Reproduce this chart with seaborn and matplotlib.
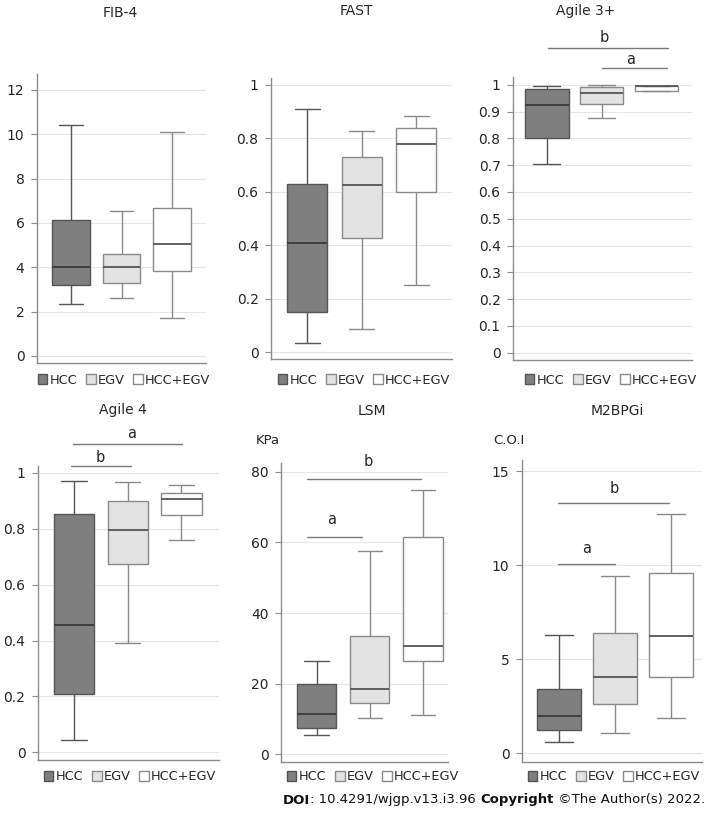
import numpy as np
import pandas as pd
import matplotlib
matplotlib.use("Agg")
import matplotlib.pyplot as plt
import seaborn as sns

# ---------------- data ----------------
groups = ["HCC", "EGV", "HCC+EGV"]

# five-number summaries per group: [min, Q1, median, Q3, max]
fib4_hcc = [2.36, 3.18, 4.00, 6.13, 10.41]
fib4_egv = [2.60, 3.31, 4.00, 4.62, 6.52]
fib4_both = [1.70, 3.83, 5.05, 6.67, 10.10]

fast_hcc = [0.036, 0.149, 0.407, 0.630, 0.909]
fast_egv = [0.086, 0.427, 0.624, 0.731, 0.826]
fast_both = [0.253, 0.598, 0.778, 0.839, 0.884]

agile3_hcc = [0.703, 0.801, 0.923, 0.986, 0.996]
agile3_egv = [0.877, 0.930, 0.971, 0.990, 0.998]
agile3_both = [0.977, 0.977, 0.996, 0.996, 0.997]

agile4_hcc = [0.042, 0.208, 0.455, 0.852, 0.973]
agile4_egv = [0.390, 0.675, 0.796, 0.901, 0.967]
agile4_both = [0.759, 0.851, 0.906, 0.927, 0.957]

lsm_hcc = [5.4, 7.3, 11.3, 20.0, 26.3]
lsm_egv = [10.4, 14.4, 18.4, 33.6, 57.5]
lsm_both = [11.0, 26.3, 30.8, 61.6, 74.8]

m2bpgi_hcc = [0.59, 1.22, 1.97, 3.40, 6.28]
m2bpgi_egv = [1.06, 2.62, 4.08, 6.38, 9.45]
m2bpgi_both = [1.90, 4.08, 6.26, 9.61, 12.75]

titles = ["FIB-4", "FAST", "Agile 3+", "Agile 4", "LSM", "M2BPGi"]
units = ["", "", "", "", "KPa", "C.O.I"]

fib4_ticks = [0, 2, 4, 6, 8, 10, 12]
fast_ticks = [0, 0.2, 0.4, 0.6, 0.8, 1]
agile3_ticks = [0, 0.1, 0.2, 0.3, 0.4, 0.5, 0.6, 0.7, 0.8, 0.9, 1]
agile4_ticks = [0, 0.2, 0.4, 0.6, 0.8, 1]
lsm_ticks = [0, 20, 40, 60, 80]
m2bpgi_ticks = [0, 5, 10, 15]

# significance brackets: (x_start, x_end, y_line, letter, x_letter, y_letter)
agile3_sig = [(0.02, 2.22, 1.137, "b", 1.04, 1.178), (1.0, 2.2, 1.062, "a", 1.53, 1.096)]
agile4_sig = [(-0.02, 2.01, 1.104, "a", 1.08, 1.143), (-0.06, 1.06, 1.025, "b", 0.48, 1.057)]
lsm_sig = [(-0.18, 1.96, 78.0, "b", 0.97, 82.8), (-0.18, 0.86, 61.6, "a", 0.29, 66.4)]
m2bpgi_sig = [(-0.02, 1.96, 13.31, "b", 0.98, 14.06), (-0.02, 1.0, 10.07, "a", 0.5, 10.87)]

# ---------------- style / layout ----------------
W, H = 708, 814
sns.set_theme(style="white")
plt.rcParams["font.family"] = ["DejaVu Sans"]

fills = ["#7f7f7f", "#e3e3e3", "#ffffff"]
edges = ["#555555", "#8a8a8a", "#8a8a8a"]
medians = ["#3a3a3a", "#555555", "#555555"]
axis_col = "#8c8c8c"
txt_col = "#262626"

panels = [
    dict(data=[fib4_hcc, fib4_egv, fib4_both], ticks=fib4_ticks, sig=[],
         box=(37, 74, 206, 363), ylim=(-0.32, 12.72), xlim=(-0.67, 2.67), width=0.75,
         title_xy=(120, 13), leg_xy=(124, 380), unit_xy=None),
    dict(data=[fast_hcc, fast_egv, fast_both], ticks=fast_ticks, sig=[],
         box=(271, 78, 452, 359), ylim=(-0.025, 1.025), xlim=(-0.66, 2.65), width=0.73,
         title_xy=(356, 11), leg_xy=(364, 380), unit_xy=None),
    dict(data=[agile3_hcc, agile3_egv, agile3_both], ticks=agile3_ticks, sig=agile3_sig,
         box=(513, 77, 692, 360), ylim=(-0.027, 1.029), xlim=(-0.62, 2.65), width=0.79,
         title_xy=(586, 11), leg_xy=(611, 380), unit_xy=None),
    dict(data=[agile4_hcc, agile4_egv, agile4_both], ticks=agile4_ticks, sig=agile4_sig,
         box=(38, 466, 219, 760), ylim=(-0.028, 1.025), xlim=(-0.67, 2.7), width=0.75,
         title_xy=(123, 410), leg_xy=(130, 777), unit_xy=None),
    dict(data=[lsm_hcc, lsm_egv, lsm_both], ticks=lsm_ticks, sig=lsm_sig,
         box=(281, 463, 448, 762), ylim=(-2.2, 82.5), xlim=(-0.67, 2.47), width=0.74,
         title_xy=(372, 411), leg_xy=(373, 777), unit_xy=(268, 441)),
    dict(data=[m2bpgi_hcc, m2bpgi_egv, m2bpgi_both], ticks=m2bpgi_ticks, sig=m2bpgi_sig,
         box=(522, 460, 702, 762), ylim=(-0.46, 15.6), xlim=(-0.66, 2.55), width=0.79,
         title_xy=(617, 411), leg_xy=(614, 777), unit_xy=(509, 441)),
]

fig = plt.figure(figsize=(W / 100, H / 100), dpi=100)
fig.patch.set_facecolor("white")


def fx(px):
    return px / W


def fy(py):
    return 1 - py / H


for title, unit, p in zip(titles, units, panels):
    l, t, r, b = p["box"]
    ax = fig.add_axes([fx(l), fy(b), (r - l) / W, (b - t) / H])
    df = pd.DataFrame({
        "group": np.repeat(groups, 5),
        "value": np.concatenate([np.asarray(d, float) for d in p["data"]]),
    })
    sns.boxplot(data=df, x="group", y="value", hue="group", order=groups,
                hue_order=groups, palette=fills, whis=np.inf, width=p["width"],
                linewidth=1.0, showfliers=False, legend=False, ax=ax)
    for c, ec, mc in zip(ax.containers, edges, medians):
        for bx in c.boxes:
            bx.set_edgecolor(ec)
            bx.set_linewidth(1.0)
        for ln in list(c.whiskers) + list(c.caps):
            ln.set_color(ec)
            ln.set_linewidth(1.0)
        # widen the whisker caps a little (about 0.63 of the box width)
        for ln in c.caps:
            xd = np.asarray(ln.get_xdata(), float)
            mid = xd.mean()
            ln.set_xdata(mid + (xd - mid) * 1.25)
        for ln in c.medians:
            ln.set_color(mc)
            ln.set_linewidth(1.3)

    ax.set_xlim(*p["xlim"])
    ax.set_ylim(*p["ylim"])
    ax.set_yticks(p["ticks"])
    ax.set_yticklabels([f"{v:g}" for v in p["ticks"]])
    ax.set_xticks([])
    ax.set_xlabel("")
    ax.set_ylabel("")
    ax.yaxis.grid(True, color="#e6e6e6", linewidth=0.8)
    ax.set_axisbelow(True)
    for s in ["top", "right"]:
        ax.spines[s].set_visible(False)
    for s in ["left", "bottom"]:
        ax.spines[s].set_color(axis_col)
        ax.spines[s].set_linewidth(1.0)
    ax.tick_params(axis="y", left=True, length=4, width=0.8, color=axis_col,
                   labelsize=10, labelcolor=txt_col, pad=5)

    for x0, x1, yl, letter, xt, yt in p["sig"]:
        ax.plot([x0, x1], [yl, yl], color="#7a7a7a", linewidth=1.0, clip_on=False)
        ax.text(xt, yt, letter, ha="center", va="center", fontsize=10.5,
                color=txt_col, clip_on=False)

    handles = [c.boxes[0] for c in ax.containers]
    fig.legend(handles, groups, loc="center", bbox_to_anchor=(fx(p["leg_xy"][0]), fy(p["leg_xy"][1])),
               bbox_transform=fig.transFigure, ncol=3, frameon=False,
               handlelength=0.75, handleheight=0.75, handletextpad=0.15,
               columnspacing=0.7, fontsize=9.3, labelcolor=txt_col,
               borderpad=0.0)

    fig.text(fx(p["title_xy"][0]), fy(p["title_xy"][1]), title, ha="center",
             va="center", fontsize=10, color=txt_col)
    if p["unit_xy"] is not None:
        fig.text(fx(p["unit_xy"][0]), fy(p["unit_xy"][1]), unit, ha="center",
                 va="center", fontsize=9.5, color=txt_col)

# footer with bold parts
parts = [("DOI", "bold"), (": 10.4291/wjgp.v13.i3.96 ", "normal"),
         ("Copyright", "bold"), (" \u00a9The Author(s) 2022.", "normal")]
renderer = fig.canvas.get_renderer()
texts = []
x = 0.0
for s, wgt in parts:
    t = fig.text(fx(x), fy(800), s, ha="left", va="center", fontsize=9.5,
                 fontweight=wgt, color="#111111")
    bb = t.get_window_extent(renderer)
    texts.append((t, x))
    x += bb.width
shift = 705 - x
for t, x0 in texts:
    t.set_x(fx(x0 + shift))

fig.savefig("out.png", dpi=100, facecolor="white")
